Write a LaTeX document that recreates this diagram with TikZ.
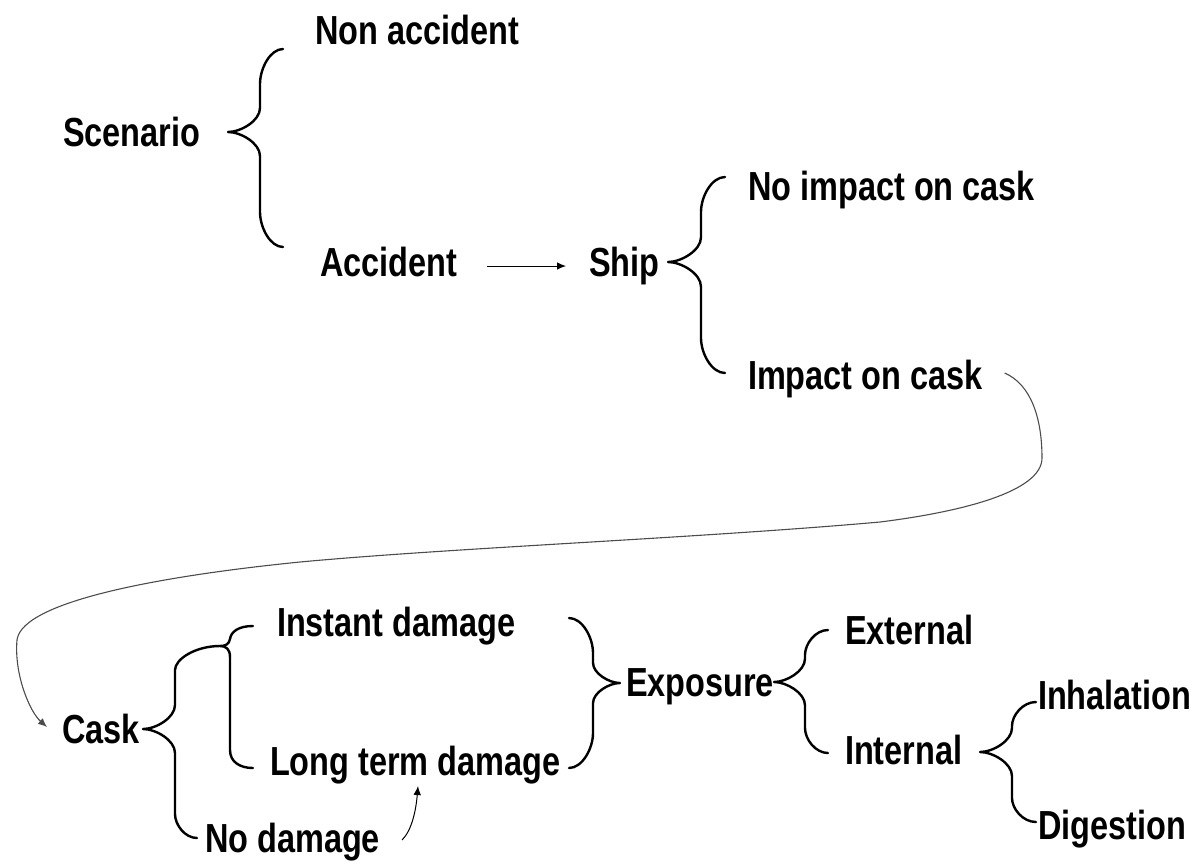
\documentclass[tikz,border=0pt]{standalone}
\usepackage{fontspec}
\setmainfont{Liberation Sans}[FakeStretch=0.8,BoldFeatures={FakeStretch=0.8}]
\usetikzlibrary{arrows.meta}
% tip-x tip-y vertical-x end1-x end1-y radius1 end2-x end2-y radius2
\newcommand\brc[9]{%
  \draw[bracestyle] (#4,#5) .. controls ({#3+0.45*(#4-#3)},#5) and (#3,{#5+0.55*#6}) .. (#3,{#5+#6})
   -- (#3,{#2-0.75*abs(#3-#1)}) .. controls (#3,{#2-0.35*abs(#3-#1)}) and ({#3-0.6*(#3-#1)},#2) .. (#1,#2)
   .. controls ({#3-0.6*(#3-#1)},#2) and (#3,{#2+0.35*abs(#3-#1)}) .. (#3,{#2+0.75*abs(#3-#1)})
   -- (#3,{#8-#9}) .. controls (#3,{#8-0.55*#9}) and ({#3+0.45*(#7-#3)},#8) .. (#7,#8);}
\begin{document}
\begin{tikzpicture}[x=0.5pt,y=-0.5pt,
  lbl/.style={inner sep=0pt,outer sep=0pt,anchor=base west,font=\fontsize{20.3}{24}\selectfont\bfseries},
  bracestyle/.style={line width=1.2pt,line cap=round,line join=round},
  thinarrow/.style={line width=0.5pt,-{Latex[length=4.5pt,width=3.8pt]}},
  longcurve/.style={line width=0.55pt,draw=black!70,-{Latex[length=4.5pt,width=3.8pt]}}]
\useasboundingbox (0,0) rectangle (1200,863);
% labels
\node[lbl] (nonacc) at (315,44) {Non accident};
\node[lbl] (scen) at (63,146) {Scenario};
\node[lbl] (acc) at (320,276) {Accident};
\node[lbl] (ship) at (589,276) {Ship};
\node[lbl] (noimp) at (748,200) {No impact on cask};
\node[lbl] (imp) at (748,389) {Impact on cask};
\node[lbl] (cask) at (62,743) {Cask};
\node[lbl] (inst) at (277,636) {Instant damage};
\node[lbl] (ltd) at (270,775) {Long term damage};
\node[lbl] (nod) at (205,852) {No damage};
\node[lbl] (expo) at (626,696) {Exposure};
\node[lbl] (ext) at (845,644) {External};
\node[lbl] (int) at (845,764) {Internal};
\node[lbl] (inh) at (1038,709) {Inhalation};
\node[lbl] (dig) at (1038,839) {Digestion};
% braces
\brc{228}{132}{260}{283}{49}{35}{283}{247}{35}
\brc{668}{262}{701}{725}{177}{35}{725}{373}{35}
\brc{143}{729}{175}{220}{646}{24}{197}{838}{24}
\draw[bracestyle] (253,626) .. controls (238,626) and (231,632) .. (230,639)
   .. controls (229,644) and (226,646) .. (220,646)
   .. controls (226,646) and (230,649) .. (230,657) -- (230,750)
   .. controls (230,762) and (240,768) .. (253,768);
\brc{620}{683}{593}{569}{618}{35}{569}{768}{35}
\brc{774}{682}{805}{828}{630}{25}{828}{753}{25}
\brc{980}{752}{1012}{1036}{702}{24}{1036}{822}{24}
% arrows
\draw[thinarrow] ([xshift=15pt,yshift=5pt]acc.base east) -- ([xshift=-11.5pt,yshift=5pt]ship.base west);
\draw[thinarrow] ([xshift=11pt,yshift=6pt]nod.base east) .. controls (412,830) and (416,810) .. ([xshift=74pt,yshift=-5.5pt]ltd.base west);
\draw[longcurve] ([xshift=11pt,yshift=8pt]imp.base east)
   .. controls (1032,385) and (1042,420) .. (1042,458)
   .. controls (1042,492) and (960,512) .. (880,522)
   .. controls (700,538) and (450,548) .. (300,562)
   .. controls (170,575) and (22,600) .. (17,640)
   .. controls (14,675) and (30,712) .. ([xshift=-7.5pt,yshift=8pt]cask.base west);
\end{tikzpicture}
\end{document}
